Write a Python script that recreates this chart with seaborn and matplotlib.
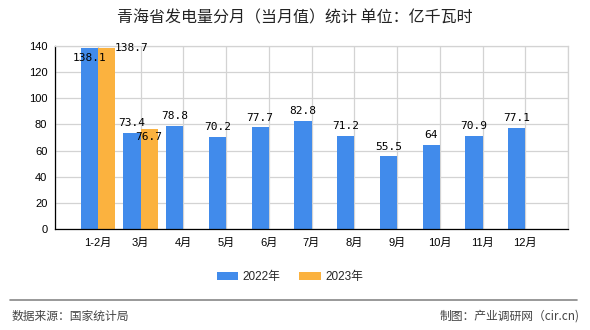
import matplotlib
matplotlib.use("Agg")
import matplotlib.pyplot as plt
import seaborn as sns
import pandas as pd
import numpy as np

months = ["1-2月", "3月", "4月", "5月", "6月", "7月", "8月", "9月", "10月", "11月", "12月"]
vals_2022 = [138.1, 73.4, 78.8, 70.2, 77.7, 82.8, 71.2, 55.5, 64, 70.9, 77.1]
vals_2023 = [138.7, 76.7, None, None, None, None, None, None, None, None, None]
series = ["2022年", "2023年"]
colors = ["#418BEB", "#FBB23F"]
title = "青海省发电量分月（当月值）统计 单位：亿千瓦时"
source = "数据来源：国家统计局"
maker = "制图：产业调研网（cir.cn)"

rows = []
for m, v in zip(months, vals_2022):
    rows.append({"月份": m, "年份": series[0], "值": v})
for m, v in zip(months, vals_2023):
    rows.append({"月份": m, "年份": series[1], "值": np.nan if v is None else v})
df = pd.DataFrame(rows)

sns.set_theme(style="white")
plt.rcParams["font.family"] = ["Liberation Sans", "Noto Sans CJK SC"]

fig = plt.figure(figsize=(5.9, 3.3), dpi=100)
ax = fig.add_axes([55 / 590, 1 - 229 / 330, (568 - 55) / 590, (229 - 46) / 330])

sns.barplot(data=df, x="月份", y="值", hue="年份", order=months, hue_order=series,
            palette=colors, saturation=1, width=0.8, dodge=True, ax=ax,
            legend=True, errorbar=None, linewidth=0)

ax.set_xlim(-1, len(months))
ax.set_ylim(0, 140)
ax.set_yticks(np.arange(0, 141, 20))
ax.set_xticks(np.arange(-1, len(months) + 1))
ax.set_xticklabels([""] + months + [""])
ax.set_xlabel("")
ax.set_ylabel("")

ax.grid(True, color="#d3d3d3", linewidth=0.9)
ax.set_axisbelow(True)
for s in ["top", "right"]:
    ax.spines[s].set_color("#d3d3d3")
    ax.spines[s].set_linewidth(0.9)
for s in ["left", "bottom"]:
    ax.spines[s].set_color("#000000")
    ax.spines[s].set_linewidth(0.9)
ax.tick_params(axis="both", which="both", direction="out", length=3.5, width=0.9,
               color="#000000", labelsize=8, labelcolor="#000000", pad=2)
ax.tick_params(axis="x", pad=3)

# value labels
mono = "DejaVu Sans Mono"
special = {
    (0, 0): dict(dx=0, dy=-3.5, ha="center", va="top"),
    (1, 0): dict(dx=0, dy=0, ha="left", va="center", right=True),
    (1, 1): dict(dx=0, dy=-2, ha="center", va="top"),
}
for si, cont in enumerate(ax.containers):
    for mi, bar in enumerate(cont):
        h = bar.get_height()
        if h is None or np.isnan(h):
            continue
        vals = vals_2022 if si == 0 else vals_2023
        v = vals[mi]
        txt = ("%g" % v)
        cx = bar.get_x() + bar.get_width() / 2
        sp = special.get((si, mi))
        if sp is None:
            ax.annotate(txt, (cx, h), xytext=(0, 3.5), textcoords="offset points",
                        ha="center", va="bottom", fontsize=8, family=mono, color="#000000")
        else:
            x = bar.get_x() + bar.get_width() if sp.get("right") else cx
            ax.annotate(txt, (x, h), xytext=(sp["dx"], sp["dy"]), textcoords="offset points",
                        ha=sp["ha"], va=sp["va"], fontsize=8, family=mono, color="#000000",
                        annotation_clip=False)

# legend
handles, labels = ax.get_legend_handles_labels()
if ax.legend_:
    ax.legend_.remove()
fig.legend(handles, labels, loc="center", bbox_to_anchor=(290 / 590, 1 - 277 / 330),
           ncol=2, frameon=False, fontsize=8.5, handlelength=1.8, handleheight=0.6,
           columnspacing=1.6, handletextpad=0.4)

fig.text(0.5, 1 - 18 / 330, title, ha="center", va="center", fontsize=11.5,
         family=["Noto Sans CJK SC"], color="#222222")

fig.add_artist(plt.Line2D([10 / 590, 577 / 590], [1 - 300 / 330, 1 - 300 / 330],
                          color="#888888", linewidth=1.2, transform=fig.transFigure))
fig.text(12 / 590, 1 - 316 / 330, source, ha="left", va="center", fontsize=8.5,
         family=["Noto Sans CJK SC"], color="#444444")
fig.text(580 / 590, 1 - 316 / 330, maker, ha="right", va="center", fontsize=8.5,
         family=["Noto Sans CJK SC"], color="#444444")

fig.savefig("out.png", dpi=100)
